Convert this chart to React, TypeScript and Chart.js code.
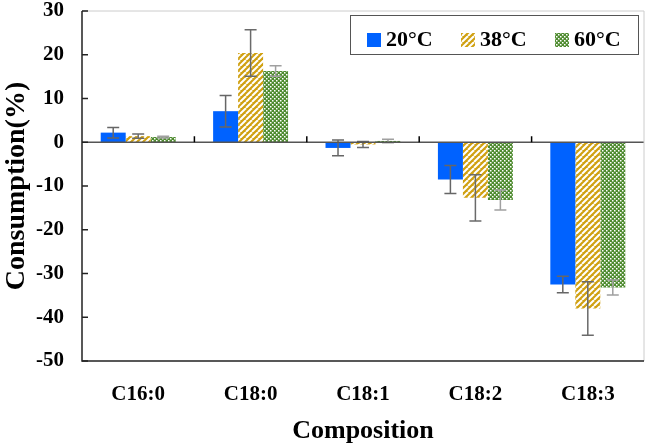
import { useRef, useEffect } from 'react';
import { Chart, registerables, type ChartConfiguration } from 'chart.js';

Chart.register(...registerables);

const categories = ['C16:0', 'C18:0', 'C18:1', 'C18:2', 'C18:3'];
const seriesLabels = ['20°C', '38°C', '60°C'];
const values20 = [2.2, 7.1, -1.3, -8.5, -32.5];
const values38 = [1.4, 20.4, -0.5, -12.7, -38.0];
const values60 = [1.2, 16.3, 0.3, -13.2, -33.2];
const errors20 = [1.2, 3.6, 1.8, 3.2, 1.9];
const errors38 = [0.5, 5.3, 0.7, 5.3, 6.1];
const errors60 = [0.2, 1.2, 0.4, 2.3, 1.7];
const yTicks = [30, 20, 10, 0, -10, -20, -30, -40, -50];

const FONT = '"Liberation Serif", "Times New Roman", serif';

function stripePattern(): CanvasPattern | string {
    const c = document.createElement('canvas');
    c.width = 6;
    c.height = 6;
    const g = c.getContext('2d');
    if (!g) return '#D0A010';
    g.fillStyle = '#D0A010';
    g.fillRect(0, 0, 6, 6);
    g.strokeStyle = '#ffffff';
    g.lineWidth = 2;
    for (let k = -6; k <= 12; k += 6) {
        g.beginPath();
        g.moveTo(k, 6);
        g.lineTo(k + 6, 0);
        g.stroke();
    }
    return g.createPattern(c, 'repeat') || '#D0A010';
}

function dotPattern(): CanvasPattern | string {
    const c = document.createElement('canvas');
    c.width = 4;
    c.height = 4;
    const g = c.getContext('2d');
    if (!g) return '#4E8B2F';
    g.fillStyle = '#4E8B2F';
    g.fillRect(0, 0, 4, 4);
    g.fillStyle = '#ffffff';
    g.fillRect(0, 0, 1.5, 1.5);
    g.fillRect(2, 2, 1.5, 1.5);
    return g.createPattern(c, 'repeat') || '#4E8B2F';
}

// error bars + frame + inward ticks + legend box
const extrasPlugin = {
    id: 'extras',
    afterDatasetsDraw(chart: any) {
        const { ctx, chartArea, scales } = chart;
        const y = scales.y;
        const x = scales.x;
        const errs = [errors20, errors38, errors60];
        const errColors = ['#666666', '#6a6a6a', '#a0a0a0'];
        ctx.save();
        chart.data.datasets.forEach((ds: any, di: number) => {
            const meta = chart.getDatasetMeta(di);
            meta.data.forEach((bar: any, i: number) => {
                const v = ds.data[i];
                const e = errs[di][i];
                const yTop = y.getPixelForValue(v + e);
                const yBot = y.getPixelForValue(v - e);
                ctx.strokeStyle = errColors[di];
                ctx.lineWidth = 1.5;
                ctx.beginPath();
                ctx.moveTo(bar.x, yTop);
                ctx.lineTo(bar.x, yBot);
                ctx.moveTo(bar.x - 6, yTop);
                ctx.lineTo(bar.x + 6, yTop);
                ctx.moveTo(bar.x - 6, yBot);
                ctx.lineTo(bar.x + 6, yBot);
                ctx.stroke();
            });
        });

        // zero line
        const y0 = y.getPixelForValue(0);
        ctx.strokeStyle = '#555555';
        ctx.lineWidth = 1.5;
        ctx.beginPath();
        ctx.moveTo(chartArea.left, y0);
        ctx.lineTo(chartArea.right, y0);
        ctx.stroke();

        // category boundary ticks on zero line
        ctx.strokeStyle = '#000000';
        ctx.lineWidth = 1.5;
        for (let i = 1; i < categories.length; i++) {
            const bx = (x.getPixelForValue(i - 1) + x.getPixelForValue(i)) / 2;
            ctx.beginPath();
            ctx.moveTo(bx, y0);
            ctx.lineTo(bx, y0 - 6);
            ctx.stroke();
        }

        // frame: grey top/right, black left/bottom
        ctx.strokeStyle = '#cccccc';
        ctx.lineWidth = 1;
        ctx.beginPath();
        ctx.moveTo(chartArea.left, chartArea.top);
        ctx.lineTo(chartArea.right, chartArea.top);
        ctx.lineTo(chartArea.right, chartArea.bottom);
        ctx.stroke();
        ctx.strokeStyle = '#222222';
        ctx.lineWidth = 1.5;
        ctx.beginPath();
        ctx.moveTo(chartArea.left, chartArea.top);
        ctx.lineTo(chartArea.left, chartArea.bottom);
        ctx.lineTo(chartArea.right, chartArea.bottom);
        ctx.stroke();

        // inward y ticks
        yTicks.forEach((t) => {
            const py = y.getPixelForValue(t);
            ctx.beginPath();
            ctx.moveTo(chartArea.left, py);
            ctx.lineTo(chartArea.left + 6, py);
            ctx.stroke();
        });

        // legend box
        const lx = 350, ly = 15, lw = 288, lh = 39;
        ctx.fillStyle = '#ffffff';
        ctx.fillRect(lx, ly, lw, lh);
        ctx.strokeStyle = '#555555';
        ctx.lineWidth = 1;
        ctx.strokeRect(lx + 0.5, ly + 0.5, lw, lh);
        const itemX = [367, 461, 555];
        ctx.font = `bold 22px ${FONT}`;
        ctx.textBaseline = 'middle';
        ctx.textAlign = 'left';
        chart.data.datasets.forEach((ds: any, di: number) => {
            ctx.fillStyle = ds.backgroundColor;
            ctx.fillRect(itemX[di], 33, 14, 14);
            ctx.fillStyle = '#000000';
            ctx.fillText(ds.label, itemX[di] + 19, 40);
        });
        ctx.restore();
    }
};

export default function App() {
    const chartRef = useRef<HTMLCanvasElement>(null);

    useEffect(() => {
        document.body.style.margin = '0';
        if (!chartRef.current) return;
        const config = {
            type: 'bar',
            data: {
                labels: categories,
                datasets: [
                    { label: seriesLabels[0], data: values20, backgroundColor: '#0062FF' },
                    { label: seriesLabels[1], data: values38, backgroundColor: stripePattern() },
                    { label: seriesLabels[2], data: values60, backgroundColor: dotPattern() }
                ].map((d) => ({ ...d, borderWidth: 0, categoryPercentage: 0.667, barPercentage: 1 }))
            },
            options: {
                responsive: false,
                animation: false,
                layout: { padding: { top: 11, right: 2, left: 0, bottom: 0 } },
                plugins: {
                    legend: { display: false },
                    tooltip: { enabled: false }
                },
                scales: {
                    y: {
                        min: -50,
                        max: 30,
                        afterFit: (s: any) => {
                            s.width = 82;
                            s.paddingTop = 0;
                            s.paddingBottom = 0;
                        },
                        afterBuildTicks: (s: any) => { s.ticks = yTicks.map((v) => ({ value: v })); },
                        grid: { display: false },
                        border: { display: false },
                        ticks: {
                            padding: 10,
                            color: '#000',
                            font: { family: FONT, size: 21, weight: 'bold' }
                        },
                        title: {
                            display: true,
                            text: 'Consumption(%)',
                            color: '#000',
                            padding: { top: 0, bottom: 0 },
                            font: { family: FONT, size: 28, weight: 'bold' }
                        }
                    },
                    x: {
                        afterFit: (s: any) => {
                            s.height = 86;
                            s.paddingLeft = 0;
                            s.paddingRight = 0;
                        },
                        grid: { display: false },
                        border: { display: false },
                        ticks: {
                            padding: 13,
                            color: '#000',
                            font: { family: FONT, size: 21, weight: 'bold' }
                        },
                        title: {
                            display: true,
                            text: 'Composition',
                            color: '#000',
                            padding: { top: 14, bottom: 0 },
                            font: { family: FONT, size: 26, weight: 'bold' }
                        }
                    }
                }
            },
            plugins: [extrasPlugin]
        };
        const chart = new Chart(chartRef.current, config as unknown as ChartConfiguration);
        return () => {
            chart.destroy();
        };
    }, []);

    return (
        <div style={{ width: 646, height: 447, background: '#fff' }}>
            <canvas ref={chartRef} width={646} height={447}></canvas>
        </div>
    );
}
